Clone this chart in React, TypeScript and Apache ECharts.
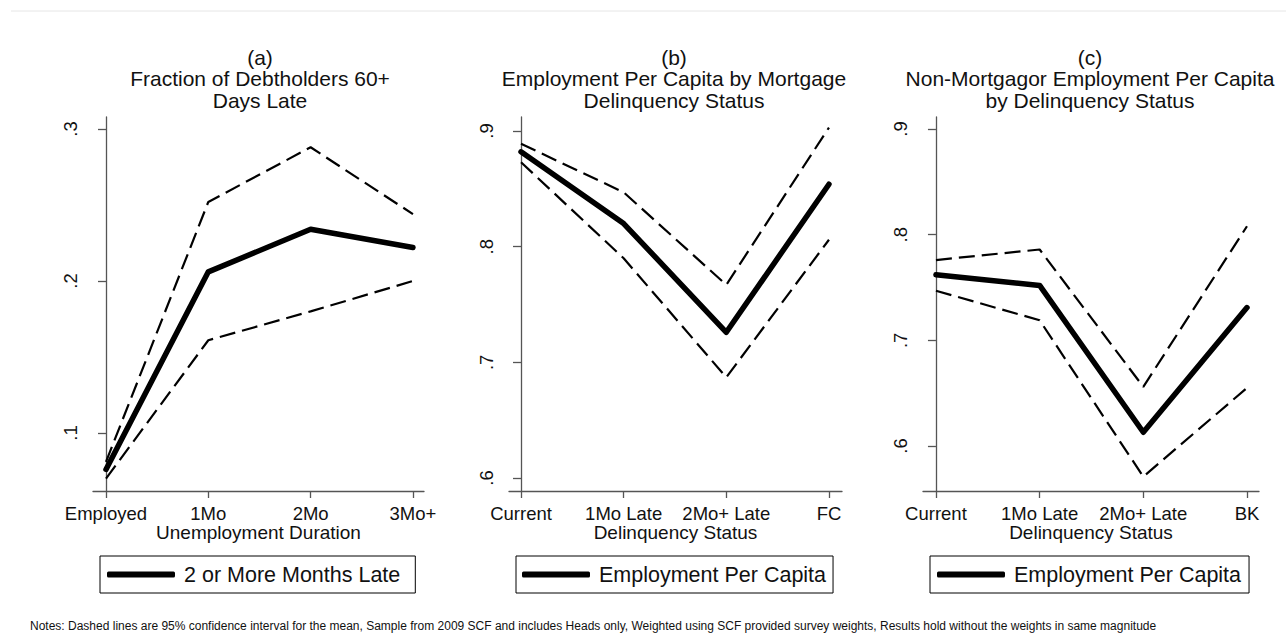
import React, { useEffect, useRef } from "react";
import * as echarts from "echarts";

// ---- data ----
const catsA = ["Employed", "1Mo", "2Mo", "3Mo+"];
const meanA = [0.076, 0.206, 0.234, 0.222];
const upperA = [0.081, 0.252, 0.288, 0.244];
const lowerA = [0.07, 0.161, 0.18, 0.2];

const catsB = ["Current", "1Mo Late", "2Mo+ Late", "FC"];
const meanB = [0.882, 0.82, 0.726, 0.854];
const upperB = [0.889, 0.847, 0.767, 0.903];
const lowerB = [0.873, 0.79, 0.687, 0.806];

const catsC = ["Current", "1Mo Late", "2Mo+ Late", "BK"];
const meanC = [0.762, 0.752, 0.613, 0.731];
const upperC = [0.776, 0.786, 0.656, 0.808];
const lowerC = [0.747, 0.719, 0.571, 0.655];

const ticksA = [0.1, 0.2, 0.3];
const ticksBC = [0.6, 0.7, 0.8, 0.9];

const titleA = ["(a)", "Fraction of Debtholders 60+", "Days Late"];
const titleB = ["(b)", "Employment Per Capita by Mortgage", "Delinquency Status"];
const titleC = ["(c)", "Non-Mortgagor Employment Per Capita", "by Delinquency Status"];
const xNameA = "Unemployment Duration";
const xNameBC = "Delinquency Status";
const legendA = "2 or More Months Late";
const legendBC = "Employment Per Capita";
const notes =
  "Notes: Dashed lines are 95% confidence interval for the mean, Sample from 2009 SCF and includes Heads only, Weighted using SCF provided survey weights, Results hold without the weights in same magnitude";

const FONT = "'Liberation Sans', Arial, sans-serif";

const toPairs = (vals: number[]) => vals.map((v, i) => [i, v]);
const fmtY = (v: number) => v.toFixed(1).replace(/^0\./, ".");

export default function App() {
  const ref = useRef<HTMLDivElement>(null);
  useEffect(() => {
    if (!ref.current) return;
    const chart = echarts.init(ref.current, undefined, { renderer: "svg" });

    const grids = [
      { left: 93, top: 117, width: 331, height: 374 },
      { left: 509, top: 117, width: 333, height: 374 },
      { left: 923, top: 117, width: 336, height: 374 },
    ];
    const xRanges = [
      [-0.127, 3.108],
      [-0.117, 3.127],
      [-0.125, 3.116],
    ];
    const yRanges = [
      [0.0618, 0.3079],
      [0.5888, 0.9121],
      [0.5574, 0.9114],
    ];
    const cats = [catsA, catsB, catsC];
    const xNames = [xNameA, xNameBC, xNameBC];
    const yTicks = [ticksA, ticksBC, ticksBC];
    const axisLine = { show: true, lineStyle: { color: "#555", width: 1.3 } };

    const xAxis = grids.map((_, i) => ({
      type: "value",
      gridIndex: i,
      min: xRanges[i][0],
      max: xRanges[i][1],
      axisLine,
      splitLine: { show: false },
      axisTick: { show: true, length: 7, customValues: [0, 1, 2, 3], lineStyle: { color: "#555", width: 1.3 } },
      axisLabel: {
        customValues: [0, 1, 2, 3],
        formatter: (v: number) => cats[i][Math.round(v)],
        margin: 13,
        fontSize: 18.5,
        fontFamily: FONT,
        color: "#111",
      },
      name: xNames[i],
      nameLocation: "middle",
      nameGap: 32,
      nameMoveOverlap: false,
      nameTextStyle: { fontSize: 19, fontFamily: FONT, color: "#111" },
    }));

    const yAxis = grids.map((_, i) => ({
      type: "value",
      gridIndex: i,
      min: yRanges[i][0],
      max: yRanges[i][1],
      axisLine,
      splitLine: { show: false },
      axisTick: { show: true, length: 8, customValues: yTicks[i], lineStyle: { color: "#555", width: 1.3 } },
      axisLabel: {
        customValues: yTicks[i],
        formatter: (v: number) => fmtY(v),
        rotate: 90,
        margin: 13,
        fontSize: 18.5,
        fontFamily: FONT,
        color: "#111",
      },
    }));

    const dashed = { color: "#000", width: 2.2, type: [16, 7] as number[] };
    const solid = { color: "#000", width: 5.5, cap: "round", join: "round" };
    const panelData = [
      [meanA, upperA, lowerA, legendA],
      [meanB, upperB, lowerB, legendBC],
      [meanC, upperC, lowerC, legendBC],
    ] as [number[], number[], number[], string][];

    const series: any[] = [];
    panelData.forEach(([m, u, l, name], i) => {
      series.push({
        type: "line",
        name: "Upper 95% CI " + i,
        xAxisIndex: i,
        yAxisIndex: i,
        data: toPairs(u),
        symbol: "none",
        itemStyle: { color: "#000" },
        lineStyle: dashed,
        z: 2,
      });
      series.push({
        type: "line",
        name: "Lower 95% CI " + i,
        xAxisIndex: i,
        yAxisIndex: i,
        data: toPairs(l),
        symbol: "none",
        itemStyle: { color: "#000" },
        lineStyle: dashed,
        z: 2,
      });
      series.push({
        type: "line",
        name,
        xAxisIndex: i,
        yAxisIndex: i,
        data: toPairs(m),
        symbol: "none",
        itemStyle: { color: "#000" },
        lineStyle: solid,
        z: 3,
      });
    });

    const legendBase = {
      orient: "horizontal",
      selectedMode: false,
      borderColor: "#000",
      borderWidth: 1,
      icon: "roundRect",
      itemWidth: 68,
      itemHeight: 6,
      itemStyle: { color: "#000", borderWidth: 0 },
      textStyle: { fontSize: 21.5, fontFamily: FONT, color: "#111", padding: [0, 0, 0, 4], lineHeight: 22 },
    };
    const legend = [
      { ...legendBase, data: [legendA], left: 100, top: 556, padding: [7.5, 15, 7.5, 7] },
      { ...legendBase, data: [legendBC], left: 516, top: 556, padding: [7.5, 7, 7.5, 6] },
      { ...legendBase, data: [legendBC], left: 930, top: 556, padding: [7.5, 8, 7.5, 7] },
    ];

    const titleCenters = [260, 674, 1090];
    const titles = [titleA, titleB, titleC];
    const lineYs = [57, 78.5, 100];

    const graphic: any[] = [
      {
        type: "line",
        shape: { x1: 11, y1: 11, x2: 1286, y2: 11 },
        style: { stroke: "#e6e6e6", lineWidth: 1 },
        silent: true,
      },
      ...titles.flatMap((lines, i) =>
        lines.map((t, j) => ({
          type: "text",
          x: titleCenters[i],
          y: lineYs[j],
          style: {
            text: t,
            fontSize: 21,
            fontFamily: FONT,
            fill: "#111",
            align: "center",
            verticalAlign: "middle",
          },
        }))
      ),
      {
        type: "text",
        x: 30,
        y: 626,
        style: {
          text: notes,
          fontSize: 12,
          fontFamily: FONT,
          fill: "#111",
          align: "left",
          verticalAlign: "middle",
        },
      },
    ];

    chart.setOption({
      animation: false,
      backgroundColor: "#fff",
      grid: grids,
      xAxis,
      yAxis,
      series,
      legend,
      graphic,
    });

    return () => chart.dispose();
  }, []);

  return (
    <div
      ref={ref}
      style={{ position: "absolute", left: 0, top: 0, width: 1286, height: 633 }}
    />
  );
}
